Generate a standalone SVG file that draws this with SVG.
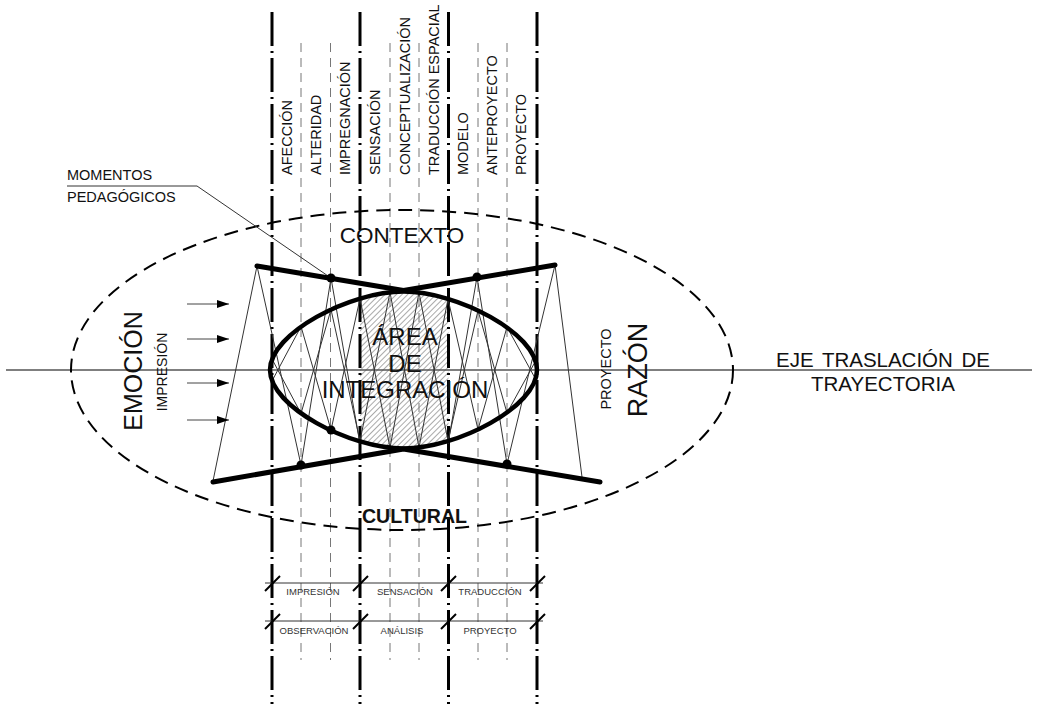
<svg xmlns="http://www.w3.org/2000/svg" width="1038" height="704" viewBox="0 0 1038 704">
<defs>
<style>
text{font-family:"Liberation Sans",Arial,sans-serif;fill:#111}
.main{stroke:#000;stroke-width:3;stroke-dasharray:34 5 2 5;fill:none}
.sub{stroke:#777;stroke-width:1;stroke-dasharray:9 6;fill:none}
.thin{stroke:#333;stroke-width:1;fill:none}
.thick{stroke:#000;stroke-width:5;fill:none;stroke-linecap:round;stroke-linejoin:round}
.vlab{font-size:14.5px}
.blab{font-size:9.5px;fill:#333}
</style>
<pattern id="hatch" width="4" height="4" patternUnits="userSpaceOnUse" patternTransform="rotate(45)">
<line x1="0" y1="0" x2="0" y2="4" stroke="#555" stroke-width="1"/>
</pattern>
<path id="lens" d="M270,370 C270,333 350,291.5 403.5,291.5 C457,291.5 537,333 537,370 C537,407 457,448.5 403.5,448.5 C350,448.5 270,407 270,370 Z"/>
<clipPath id="inner"><use href="#lens"/></clipPath>
<marker id="arr" markerWidth="12" markerHeight="8" refX="12" refY="4" orient="auto" markerUnits="userSpaceOnUse">
<path d="M0,0 L12,4 L0,8 Z" fill="#000"/>
</marker>
</defs>
<rect width="1038" height="704" fill="#fff"/>

<g id="hatch-area">
<rect x="360" y="288" width="88.5" height="165" fill="url(#hatch)" clip-path="url(#inner)"/>
</g>

<g id="grid">
<line class="main" x1="272" y1="12" x2="272" y2="704"/>
<line class="main" x1="360" y1="12" x2="360" y2="704"/>
<line class="main" x1="448.5" y1="12" x2="448.5" y2="704"/>
<line class="main" x1="537" y1="12" x2="537" y2="704"/>
<line class="sub" x1="301" y1="43" x2="301" y2="660"/>
<line class="sub" x1="330.5" y1="43" x2="330.5" y2="660"/>
<line class="sub" x1="390" y1="43" x2="390" y2="660"/>
<line class="sub" x1="419" y1="43" x2="419" y2="660"/>
<line class="sub" x1="478" y1="43" x2="478" y2="660"/>
<line class="sub" x1="507" y1="43" x2="507" y2="660"/>
</g>

<g id="axis">
<line x1="6" y1="370" x2="1032" y2="370" stroke="#555" stroke-width="1.3"/>
</g>

<g id="context-ellipse">
<ellipse cx="402" cy="370" rx="331" ry="160" fill="none" stroke="#000" stroke-width="2" stroke-dasharray="14 8"/>
</g>

<g id="connectors">
<line class="thin" x1="257" y1="266" x2="213" y2="481"/>
<line class="thin" x1="257" y1="266" x2="301" y2="465"/>
<line class="thin" x1="301" y1="465" x2="331" y2="278"/>
<line class="thin" x1="331" y1="278" x2="360" y2="444"/>
<line class="thin" x1="477" y1="277" x2="448" y2="444"/>
<line class="thin" x1="477" y1="277" x2="507" y2="464"/>
<line class="thin" x1="507" y1="464" x2="555" y2="265"/>
<line class="thin" x1="555" y1="265" x2="582" y2="477"/>

<line class="thin" x1="272" y1="359" x2="301" y2="413.5"/>
<line class="thin" x1="272" y1="381" x2="301" y2="326.5"/>
<line class="thin" x1="301" y1="326.5" x2="331" y2="430"/>
<line class="thin" x1="301" y1="413.5" x2="331" y2="309.5"/>
<line class="thin" x1="331" y1="309.5" x2="360" y2="441"/>
<line class="thin" x1="331" y1="430" x2="360" y2="298.6"/>
<line class="thin" x1="360" y1="298.6" x2="390" y2="447.7"/>
<line class="thin" x1="360" y1="441" x2="390" y2="292.3"/>
<line class="thin" x1="390" y1="292.3" x2="419" y2="447.5"/>
<line class="thin" x1="390" y1="447.7" x2="419" y2="292.5"/>
<line class="thin" x1="419" y1="292.5" x2="448" y2="441"/>
<line class="thin" x1="419" y1="447.5" x2="448" y2="299"/>
<line class="thin" x1="448" y1="299" x2="478" y2="429.5"/>
<line class="thin" x1="448" y1="441" x2="478" y2="310.5"/>
<line class="thin" x1="478" y1="310.5" x2="507" y2="413"/>
<line class="thin" x1="478" y1="429.5" x2="507" y2="327"/>
<line class="thin" x1="507" y1="327" x2="535" y2="378"/>
<line class="thin" x1="507" y1="413" x2="535" y2="362"/>

<line class="thin" x1="67" y1="186" x2="197" y2="186"/>
<line class="thin" x1="197" y1="186" x2="331" y2="278"/>
<line x1="187" y1="304" x2="229" y2="304" stroke="#444" stroke-width="1" marker-end="url(#arr)"/>
<line x1="187" y1="339" x2="229" y2="339" stroke="#444" stroke-width="1" marker-end="url(#arr)"/>
<line x1="187" y1="383" x2="229" y2="383" stroke="#444" stroke-width="1" marker-end="url(#arr)"/>
<line x1="187" y1="420" x2="229" y2="420" stroke="#444" stroke-width="1" marker-end="url(#arr)"/>
</g>

<g id="integration-area">
<use href="#lens" fill="none" stroke="#000" stroke-width="4.5"/>
<polyline class="thick" points="257,266 403.5,290.5 555,265"/>
<polyline class="thick" points="213,482 403.5,449 600,482"/>
<circle cx="331" cy="278" r="4.5"/>
<circle cx="477" cy="277" r="4.5"/>
<circle cx="301" cy="465" r="4.5"/>
<circle cx="507" cy="464" r="4.5"/>
<circle cx="331" cy="430" r="4.5"/>
</g>

<g id="phase-labels">
<text class="vlab" transform="translate(292,175) rotate(-90)">AFECCIÓN</text>
<text class="vlab" transform="translate(321,175) rotate(-90)">ALTERIDAD</text>
<text class="vlab" transform="translate(350,175) rotate(-90)">IMPREGNACIÓN</text>
<text class="vlab" transform="translate(380,175) rotate(-90)">SENSACIÓN</text>
<text class="vlab" transform="translate(410,175) rotate(-90)">CONCEPTUALIZACIÓN</text>
<text class="vlab" transform="translate(439,175) rotate(-90)">TRADUCCIÓN ESPACIAL</text>
<text class="vlab" transform="translate(468,175) rotate(-90)">MODELO</text>
<text class="vlab" transform="translate(497,175) rotate(-90)">ANTEPROYECTO</text>
<text class="vlab" transform="translate(526,175) rotate(-90)">PROYECTO</text>
</g>

<g id="momentos">
<text x="67" y="180" font-size="14.5">MOMENTOS</text>
<text x="67" y="202" font-size="14.5">PEDAGÓGICOS</text>
</g>

<g id="center-labels">
<text x="402" y="243" font-size="22.5" text-anchor="middle">CONTEXTO</text>
<text x="414.5" y="523" font-size="21" font-weight="bold" text-anchor="middle" textLength="105" lengthAdjust="spacingAndGlyphs">CULTURAL</text>
<text x="405" y="345" font-size="24" text-anchor="middle">ÁREA</text>
<text x="405" y="372" font-size="24" text-anchor="middle">DE</text>
<text x="405" y="398" font-size="24" text-anchor="middle">INTEGRACIÓN</text>
</g>

<g id="side-labels">
<text transform="translate(142,371) rotate(-90)" font-size="25" text-anchor="middle">EMOCIÓN</text>
<text transform="translate(167,372) rotate(-90)" font-size="14" text-anchor="middle">IMPRESIÓN</text>
<text transform="translate(611,369) rotate(-90)" font-size="14.5" text-anchor="middle">PROYECTO</text>
<text transform="translate(647,370) rotate(-90)" font-size="27" text-anchor="middle">RAZÓN</text>
<text x="883" y="367" font-size="20.5" text-anchor="middle" word-spacing="3">EJE TRASLACIÓN DE</text>
<text x="883" y="391" font-size="20.5" text-anchor="middle">TRAYECTORIA</text>
</g>

<g id="bottom-table">
<line class="thin" x1="265" y1="583" x2="543" y2="583" stroke="#555"/>
<line class="thin" x1="265" y1="621" x2="543" y2="621" stroke="#555"/>
<g stroke="#000" stroke-width="2">
<line x1="265" y1="591" x2="280" y2="576"/>
<line x1="353" y1="591" x2="368" y2="576"/>
<line x1="441" y1="591" x2="456" y2="576"/>
<line x1="530" y1="591" x2="545" y2="576"/>
<line x1="265" y1="629" x2="280" y2="614"/>
<line x1="353" y1="629" x2="368" y2="614"/>
<line x1="441" y1="629" x2="456" y2="614"/>
<line x1="530" y1="629" x2="545" y2="614"/>
</g>
<text class="blab" x="313" y="595" text-anchor="middle">IMPRESIÓN</text>
<text class="blab" x="405" y="595" text-anchor="middle">SENSACIÓN</text>
<text class="blab" x="490" y="595" text-anchor="middle">TRADUCCIÓN</text>
<text class="blab" x="314" y="634" text-anchor="middle">OBSERVACIÓN</text>
<text class="blab" x="402" y="634" text-anchor="middle">ANÁLISIS</text>
<text class="blab" x="490" y="634" text-anchor="middle">PROYECTO</text>
</g>
</svg>
